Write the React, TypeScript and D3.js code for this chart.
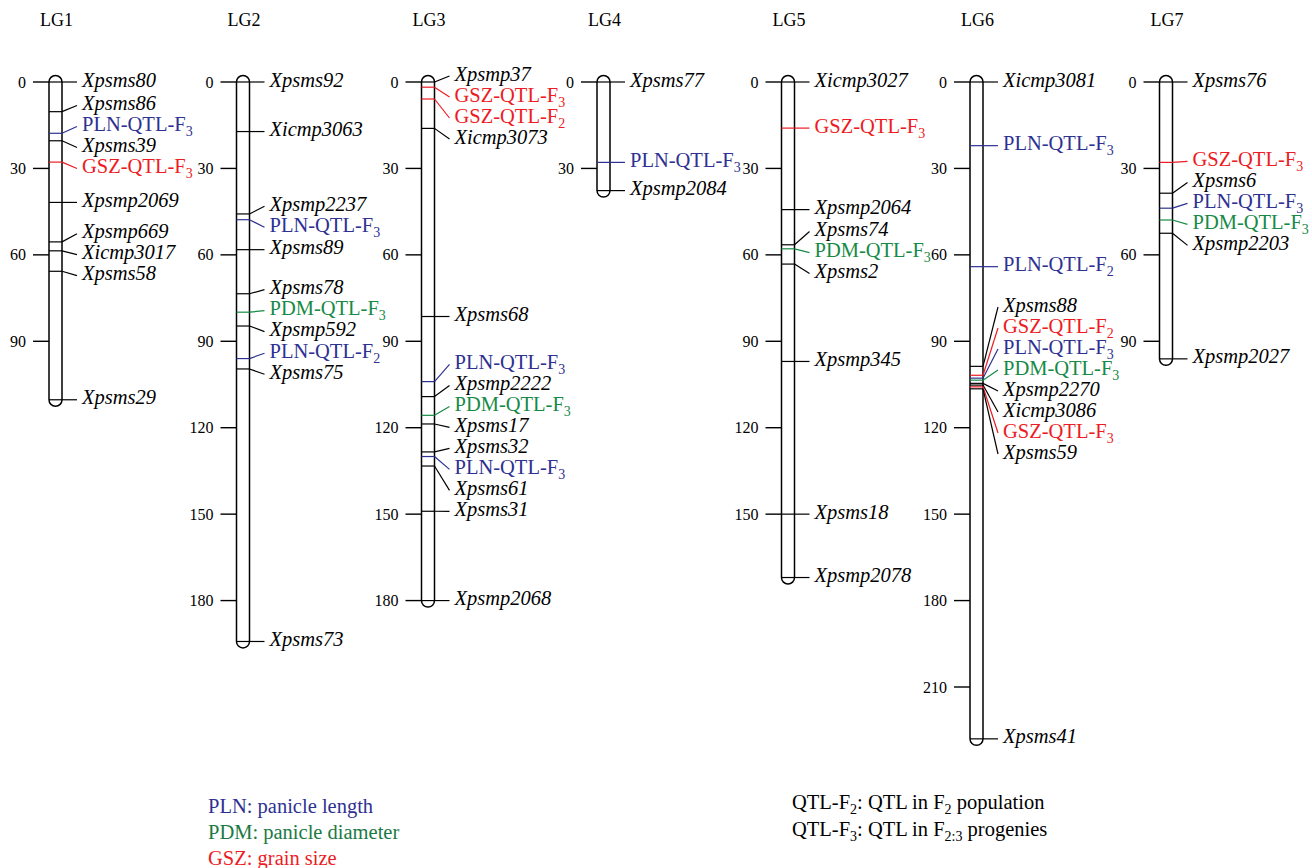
import React, { useEffect } from 'react';
import * as d3 from 'd3';

// linkage groups and their loci: [label, position in cM]
const groups = ['LG1', 'LG2', 'LG3', 'LG4', 'LG5', 'LG6', 'LG7'];

const lg1: [string, number][] = [
  ['Xpsms80', 0], ['Xpsms86', 10.3], ['PLN-QTL-F3', 17.8], ['Xpsms39', 20.4],
  ['GSZ-QTL-F3', 27.8], ['Xpsmp2069', 41.8], ['Xpsmp669', 55.5], ['Xicmp3017', 58.6],
  ['Xpsms58', 65.7], ['Xpsms29', 110.3],
];
const lg2: [string, number][] = [
  ['Xpsms92', 0], ['Xicmp3063', 17.2], ['Xpsmp2237', 45.8], ['PLN-QTL-F3', 47.8],
  ['Xpsms89', 58.2], ['Xpsms78', 73.5], ['PDM-QTL-F3', 79.9], ['Xpsmp592', 84.7],
  ['PLN-QTL-F2', 96.0], ['Xpsms75', 99.6], ['Xpsms73', 194.2],
];
const lg3: [string, number][] = [
  ['Xpsmp37', 0], ['GSZ-QTL-F3', 1.8], ['GSZ-QTL-F2', 5.9], ['Xicmp3073', 16.1],
  ['Xpsms68', 81.4], ['PLN-QTL-F3', 104.0], ['Xpsmp2222', 109.2], ['PDM-QTL-F3', 115.7],
  ['Xpsms17', 118.7], ['Xpsms32', 128.4], ['PLN-QTL-F3', 130.0], ['Xpsms61', 133.3],
  ['Xpsms31', 149.0], ['Xpsmp2068', 180.0],
];
const lg4: [string, number][] = [
  ['Xpsms77', 0], ['PLN-QTL-F3', 27.9], ['Xpsmp2084', 37.7],
];
const lg5: [string, number][] = [
  ['Xicmp3027', 0], ['GSZ-QTL-F3', 16.0], ['Xpsmp2064', 44.3], ['Xpsms74', 56.5],
  ['PDM-QTL-F3', 57.9], ['Xpsms2', 63.2], ['Xpsmp345', 97.0], ['Xpsms18', 150.0],
  ['Xpsmp2078', 172.0],
];
const lg6: [string, number][] = [
  ['Xicmp3081', 0], ['PLN-QTL-F3', 22.1], ['PLN-QTL-F2', 64.1], ['Xpsms88', 98.7],
  ['GSZ-QTL-F2', 101.8], ['PLN-QTL-F3', 102.8], ['PDM-QTL-F3', 103.5], ['Xpsmp2270', 104.6],
  ['Xicmp3086', 105.2], ['GSZ-QTL-F3', 105.8], ['Xpsms59', 106.5], ['Xpsms41', 228.0],
];
const lg7: [string, number][] = [
  ['Xpsms76', 0], ['GSZ-QTL-F3', 27.9], ['Xpsms6', 38.6], ['PLN-QTL-F3', 43.8],
  ['PDM-QTL-F3', 47.9], ['Xpsmp2203', 52.5], ['Xpsmp2027', 96.1],
];
const loci = [lg1, lg2, lg3, lg4, lg5, lg6, lg7];

const traits = ['PLN', 'PDM', 'GSZ'];
const traitNames = ['panicle length', 'panicle diameter', 'grain size'];
const traitColors = ['#2E3192', '#178A46', '#ED1C24'];
const legendColors = ['#2E3192', '#1B7A43', '#ED1C24'];

const W = 1312;
const H = 868;
const FONT = '"Liberation Serif", "DejaVu Serif", serif';
const LABEL_GAP = 21;
const BAR_W = 13;

// push overlapping labels apart, keeping each cluster centred on its loci
function spread(targets: number[], gap: number, minY: number): number[] {
  const clusters: { sum: number; n: number; top: number }[] = [];
  const place = (c: { sum: number; n: number; top: number }) => {
    c.top = Math.max(c.sum / c.n - (gap * (c.n - 1)) / 2, minY);
  };
  targets.forEach(t => {
    const c = { sum: t, n: 1, top: t };
    place(c);
    clusters.push(c);
    while (clusters.length > 1) {
      const a = clusters[clusters.length - 2];
      const b = clusters[clusters.length - 1];
      if (a.top + gap * a.n <= b.top + 0.01) break;
      a.sum += b.sum;
      a.n += b.n;
      place(a);
      clusters.pop();
    }
  });
  const out: number[] = [];
  clusters.forEach(c => {
    for (let i = 0; i < c.n; i++) out.push(c.top + i * gap);
  });
  return out;
}

function QtlText({ label }: { label: string }) {
  const m = label.match(/^(.*-F)(\d)$/);
  if (!m) return <>{label}</>;
  return (
    <>
      <tspan>{m[1]}</tspan>
      <tspan dy={5} fontSize={14}>{m[2]}</tspan>
    </>
  );
}

export default function App() {
  useEffect(() => {
    document.body.style.margin = '0';
  }, []);

  const y = d3.scaleLinear().domain([0, 210]).range([82, 687]);
  // column centres of the linkage groups
  const x = d3.scaleOrdinal<string, number>()
    .domain(groups)
    .range([55.5, 243, 428, 603.5, 788, 976.5, 1166]);

  return (
    <svg width={W} height={H} style={{ display: 'block', background: '#fff' }} fontFamily={FONT}>
      {groups.map((g, gi) => {
        const rows = loci[gi];
        const cx = x(g);
        const left = cx - BAR_W / 2;
        const right = cx + BAR_W / 2;
        const maxCM = d3.max(rows, d => d[1])!;
        const ticks = d3.range(0, maxCM + 0.5, 30);
        const labelY = spread(rows.map(d => y(d[1])), LABEL_GAP, y(0) - 6);
        return (
          <g key={g}>
            <text x={cx + 1} y={26} textAnchor="middle" fontSize={18}>{g}</text>
            {ticks.map(t => (
              <g key={t}>
                <line x1={left - 16} x2={left} y1={y(t)} y2={y(t)} stroke="#000" strokeWidth={1.4} />
                <text x={left - 23} y={y(t)} dy="0.35em" textAnchor="end" fontSize={16}>{t}</text>
              </g>
            ))}
            <rect
              x={left}
              y={y(0) - BAR_W / 2}
              width={BAR_W}
              height={y(maxCM) - y(0) + BAR_W}
              rx={BAR_W / 2}
              fill="#fff"
              stroke="#000"
              strokeWidth={1.5}
            />
            {rows.map(([label, cM], i) => {
              const ti = traits.indexOf(label.slice(0, 3));
              const isQtl = ti >= 0 && label.includes('QTL');
              const color = isQtl ? traitColors[ti] : '#000';
              const ly = labelY[i];
              return (
                <g key={label + i}>
                  <line x1={left} x2={right} y1={y(cM)} y2={y(cM)} stroke={color} strokeWidth={1.2} />
                  <line x1={right} x2={right + 15} y1={y(cM)} y2={ly} stroke={color} strokeWidth={1.2} />
                  <text
                    x={right + 20}
                    y={ly}
                    dy="0.22em"
                    fontSize={20.5}
                    fill={color}
                    fontStyle={isQtl ? 'normal' : 'italic'}
                  >
                    <QtlText label={label} />
                  </text>
                </g>
              );
            })}
          </g>
        );
      })}

      {traits.map((t, i) => (
        <text key={t} x={208} y={813 + i * 26} fontSize={20.5} fill={legendColors[i]}>
          {t}: {traitNames[i]}
        </text>
      ))}

      <text x={792} y={809} fontSize={20.5}>
        <tspan>QTL-F</tspan>
        <tspan dy={5} fontSize={14}>2</tspan>
        <tspan dy={-5}>: QTL in F</tspan>
        <tspan dy={5} fontSize={14}>2</tspan>
        <tspan dy={-5}> population</tspan>
      </text>
      <text x={792} y={836} fontSize={20.5}>
        <tspan>QTL-F</tspan>
        <tspan dy={5} fontSize={14}>3</tspan>
        <tspan dy={-5}>: QTL in F</tspan>
        <tspan dy={5} fontSize={14}>2:3</tspan>
        <tspan dy={-5}> progenies</tspan>
      </text>
    </svg>
  );
}
